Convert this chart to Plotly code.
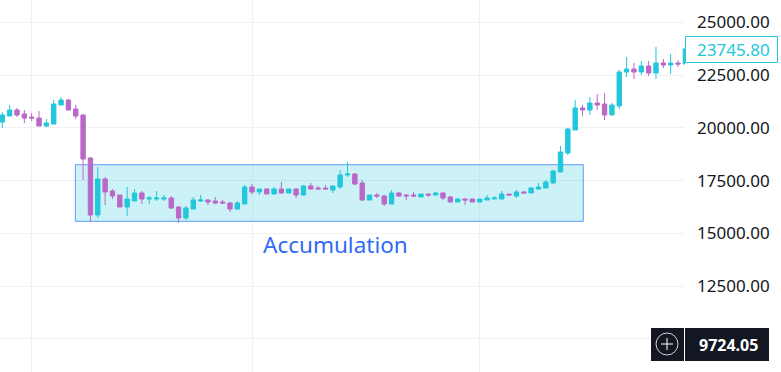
import plotly.graph_objects as go

open_ = [20283,20568,20852,20662,20520,20473,20094,20188,21089,21326,20899,20615,18577,15875,17581,17013,16823,16254,16539,16918,
         16633,16633,16633,16681,16254,15733,16159,16539,16586,16539,16491,16444,16159,16396,17202,16965,17107,16870,17107,16918,
         17107,16823,17250,17155,17155,17060,17202,17771,17818,17392,16586,16823,16776,16396,16918,16823,16823,16728,16870,16823,
         16918,16728,16491,16633,16633,16491,16586,16633,16633,16870,16776,16965,16918,17107,17155,17392,17913,18814,19904,20947,
         20852,21184,21136,20615,21042,22653,22795,22653,22938,22606,23080,22985,23080,23032]
high = [20757,21089,20947,20852,20710,20805,20425,21326,21468,21373,21089,20662,18624,18150,17676,17107,16823,17202,17107,17013,
        16776,17013,16823,16776,16302,16302,16728,16823,16633,16728,16586,16491,16539,17297,17344,17107,17155,17202,17439,17107,
        17155,17297,17392,17250,17297,17250,18008,18387,17866,17534,16823,16918,16823,17060,16965,16870,16965,16870,16870,16965,
        16965,16776,16681,16681,16633,16633,16823,16776,17013,16870,17060,17013,17202,17392,17534,18008,19146,19999,21326,21089,
        21468,21610,21658,21184,22748,23364,23080,23175,23175,23838,23269,23506,23222,23743]
low = [19999,20568,20520,20236,20331,20094,20046,20188,21089,20852,20425,17534,15543,15733,16349,16633,16254,15828,16539,16396,
       16396,16539,16539,16159,15496,15638,16159,16491,16349,16396,16396,16017,16112,16396,16870,16823,16870,16870,16870,16918,
       16681,16776,17060,17107,17107,16918,17107,17676,17297,16539,16586,16681,16302,16396,16728,16586,16728,16728,16728,16823,
       16586,16491,16491,16349,16491,16491,16586,16633,16633,16776,16681,16918,16918,17107,17155,17344,17913,18719,19904,20568,
       20615,20852,20378,20615,20899,22416,22321,22511,22464,22321,22843,22558,22890,23032]
close = [20615,20852,20615,20473,20473,20094,20236,21136,21326,20852,20568,18529,15875,17581,16965,16776,16254,16633,16918,16633,
         16681,16681,16681,16207,15733,16207,16586,16586,16491,16444,16444,16159,16444,17202,16965,17107,16870,17107,16918,17107,
         16823,17250,17107,17107,17107,17250,17771,17818,17344,16586,16823,16776,16396,16918,16776,16776,16776,16870,16823,16918,
         16681,16491,16633,16586,16491,16633,16681,16681,16870,16823,16965,16918,17155,17202,17439,17961,18861,19951,20947,20852,
         21184,21089,20615,21089,22653,22795,22653,22938,22606,23080,22985,23080,23032,23746]
candle_index = list(range(len(open_)))

y_ticks = [25000, 22500, 20000, 17500, 15000, 12500, 10000]
y_labels = ["25000.00", "22500.00", "20000.00", "17500.00", "15000.00", "12500.00", ""]
x_grid = [4, 34, 65]

box_x = [9.95, 79.1]
box_y = [15576, 18259]
box_label = "Accumulation"
label_index = 45.43
label_price = 14490
last_price = "23745.80"
scale_price = "9724.05"

W, H, PLOT_W = 781, 372, 685
TEAL, PURPLE, GRID = "#22c7db", "#ba68c8", "#f1f1f3"
FONT = "Noto Sans"

def px(x):
    return x / PLOT_W

def py(y):
    return 1 - y / H

fig = go.Figure(go.Candlestick(
    x=candle_index, open=open_, high=high, low=low, close=close,
    increasing=dict(line=dict(color=TEAL, width=1), fillcolor=TEAL),
    decreasing=dict(line=dict(color=PURPLE, width=1), fillcolor=PURPLE),
    whiskerwidth=0, hoverinfo="skip", showlegend=False,
))

def paper_shape(**kw):
    return dict(xref="paper", yref="paper", **kw)

shapes = [
    dict(type="rect", layer="between", x0=box_x[0], x1=box_x[1], y0=box_y[0], y1=box_y[1],
         line=dict(color="#5c9cf5", width=1), fillcolor="rgba(34,199,219,0.23)"),
    paper_shape(type="rect", x0=px(685.5), x1=px(777.5), y0=py(36.5), y1=py(62.5),
                line=dict(color=TEAL, width=1), fillcolor="#ffffff"),
    paper_shape(type="rect", x0=px(651), x1=px(769), y0=py(328), y1=py(361),
                line=dict(color="#131722", width=0), fillcolor="#131722"),
    paper_shape(type="line", x0=px(684.5), x1=px(684.5), y0=py(328), y1=py(361),
                line=dict(color="#ffffff", width=1)),
    paper_shape(type="circle", x0=px(656), x1=px(678), y0=py(333), y1=py(355),
                line=dict(color="#d1d4dc", width=1)),
    paper_shape(type="line", x0=px(661), x1=px(673), y0=py(344), y1=py(344),
                line=dict(color="#ffffff", width=1)),
    paper_shape(type="line", x0=px(667), x1=px(667), y0=py(338), y1=py(350),
                line=dict(color="#ffffff", width=1)),
]

annotations = [
    dict(x=label_index, y=label_price, xref="x", yref="y", text=box_label, showarrow=False,
         xanchor="center", yanchor="middle",
         font=dict(family=FONT, size=22.5, color="#2f6bf5")),
    dict(xref="paper", yref="paper", x=px(733.5), y=py(49.5), text=last_price, showarrow=False,
         xanchor="center", yanchor="middle",
         font=dict(family=FONT, size=17, color=TEAL)),
    dict(xref="paper", yref="paper", x=px(728), y=py(344.5), text="<b>" + scale_price + "</b>", showarrow=False,
         xanchor="center", yanchor="middle",
         font=dict(family=FONT, size=16, color="#ffffff")),
]

fig.update_layout(
    width=W, height=H,
    margin=dict(l=0, r=W - PLOT_W, t=0, b=0, pad=0),
    paper_bgcolor="#ffffff", plot_bgcolor="#ffffff",
    boxgap=0.15,
    shapes=shapes, annotations=annotations,
    xaxis=dict(range=[-0.313, 92.95], rangeslider=dict(visible=False), tickvals=x_grid,
               showticklabels=False, ticks="", showgrid=True, gridcolor=GRID, gridwidth=1, zeroline=False, showline=False),
    yaxis=dict(side="right", range=[8434, 26066], tickvals=y_ticks, ticktext=y_labels, ticks="",
               ticklabelstandoff=11, showgrid=True, gridcolor=GRID, gridwidth=1, zeroline=False, showline=False,
               tickfont=dict(family=FONT, size=17, color="#131722")),
)

fig.write_html("out.html", config=dict(displayModeBar=False),
               post_script="document.body.style.margin='0';document.body.style.overflow='hidden';")
